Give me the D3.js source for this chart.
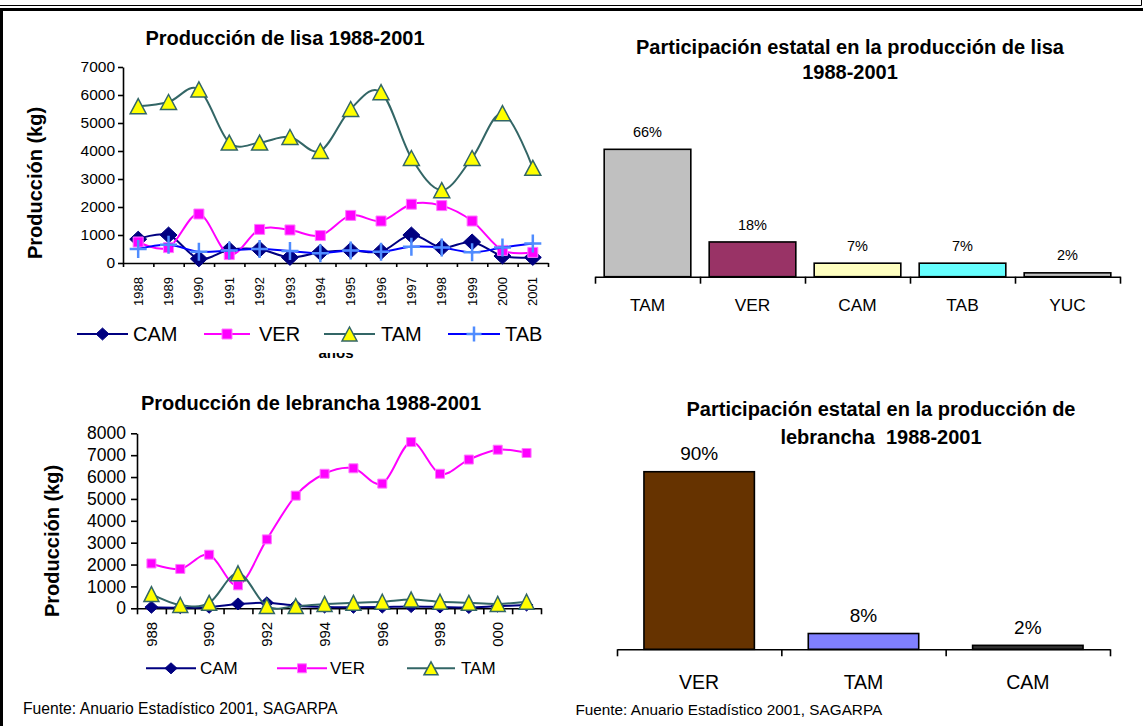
<!DOCTYPE html>
<html>
<head>
<meta charset="utf-8">
<script src="https://cdn.jsdelivr.net/npm/d3@7"></script>
<style>
  body { margin: 0; background: #fff; }
  svg { display: block; font-family: "Liberation Sans", Arial, Helvetica, sans-serif; }
</style>
</head>
<body>
<svg id="chart" width="1143" height="726"></svg>
<script>
// ---------- data ----------
const years = [1988, 1989, 1990, 1991, 1992, 1993, 1994, 1995, 1996, 1997, 1998, 1999, 2000, 2001];

// Producción de lisa (kg)
const lisaCAM = [850, 1000, 150, 470, 490, 200, 380, 450, 410, 1000, 550, 750, 250, 200];
const lisaVER = [750, 550, 1750, 300, 1200, 1180, 980, 1700, 1500, 2100, 2050, 1500, 450, 380];
const lisaTAM = [5600, 5750, 6200, 4300, 4300, 4500, 4000, 5500, 6100, 3750, 2600, 3750, 5350, 3400];
const lisaTAB = [500, 650, 400, 450, 500, 430, 350, 450, 400, 580, 550, 380, 550, 700];
const lisaTicks = [0, 1000, 2000, 3000, 4000, 5000, 6000, 7000];

// Producción de lebrancha (kg)
const lebCAM = [50, 30, 50, 200, 250, 120, 60, 50, 60, 80, 60, 40, 100, 150];
const lebVER = [2050, 1800, 2450, 1050, 3150, 5150, 6150, 6400, 5700, 7600, 6150, 6800, 7250, 7100];
const lebTAM = [650, 150, 250, 1600, 100, 100, 200, 250, 300, 400, 300, 250, 200, 300];
const lebTicks = [0, 1000, 2000, 3000, 4000, 5000, 6000, 7000, 8000];
const lebLabelYears = [1988, 1990, 1992, 1994, 1996, 1998, 2000];

// Participación estatal (%)
const lisaShareStates = ["TAM", "VER", "CAM", "TAB", "YUC"];
const lisaShareValues = [66, 18, 7, 7, 2];
const lebShareStates = ["VER", "TAM", "CAM"];
const lebShareValues = [90, 8, 2];

const sourceNote = "Fuente: Anuario Estadístico 2001, SAGARPA";

// ---------- styles ----------
const seriesStyle = {
  CAM: { line: "#000080", shape: "diamond", fill: "#000080", stroke: "#000080" },
  VER: { line: "#FF00FF", shape: "square", fill: "#FF00FF", stroke: "#FF77FF" },
  TAM: { line: "#336666", shape: "triangle", fill: "#FFFF00", stroke: "#336666" },
  TAB: { line: "#0000FF", shape: "cross", fill: "none", stroke: "#4F8CFF" }
};

function shapePath(shape, w, h) {
  switch (shape) {
    case "diamond": return `M0,${-h / 2}L${w / 2},0L0,${h / 2}L${-w / 2},0Z`;
    case "triangle": return `M0,${-h / 2}L${w / 2},${h / 2}L${-w / 2},${h / 2}Z`;
    case "square": return `M${-w / 2},${-h / 2}h${w}v${h}h${-w}Z`;
    case "cross": return `M${-w / 2},0H${w / 2}M0,${-h / 2}V${h / 2}`;
  }
}

function drawMarker(sel, name, size) {
  const st = seriesStyle[name];
  const s = size[st.shape];
  sel.attr("d", shapePath(st.shape, s[0], s[1]))
    .attr("fill", st.fill)
    .attr("stroke", st.stroke)
    .attr("stroke-width", st.shape === "cross" ? 2.5 : (st.shape === "triangle" ? 1.5 : 1))
    .attr("stroke-linejoin", "miter");
}

const svg = d3.select("#chart");

// ---------- page frame ----------
svg.append("path").attr("d", "M0,5.5H1141.5V0").attr("fill", "none").attr("stroke", "#000").attr("stroke-width", 1);
svg.append("line").attr("x1", 0).attr("x2", 1143).attr("y1", 9.5).attr("y2", 9.5).attr("stroke", "#000").attr("stroke-width", 3);
svg.append("line").attr("x1", 1.5).attr("x2", 1.5).attr("y1", 8).attr("y2", 726).attr("stroke", "#000").attr("stroke-width", 3);

const defs = svg.append("defs");

// ---------- line charts ----------
function lineChart(cfg) {
  const g = svg.append("g");
  const x = d3.scaleBand().domain(years).range([cfg.x0, cfg.x1]);
  const y = d3.scaleLinear().domain([0, cfg.max]).range([cfg.y0, cfg.yTop]);
  const cx = d => x(d) + x.bandwidth() / 2;

  g.append("text")
    .attr("x", cfg.titleX).attr("y", cfg.titleY).attr("dy", "0.35em")
    .attr("text-anchor", "middle")
    .style("font-weight", "bold").style("font-size", cfg.titleSize + "px")
    .text(cfg.title);

  g.append("text")
    .attr("transform", `translate(${cfg.yTitleX},${cfg.yTitleY}) rotate(-90)`)
    .attr("dy", "0.35em").attr("text-anchor", "middle")
    .style("font-weight", "bold").style("font-size", cfg.yTitleSize + "px")
    .text("Producción (kg)");

  // y axis
  const ya = g.append("g").attr("transform", `translate(${cfg.x0},0)`)
    .call(d3.axisLeft(y).tickValues(cfg.ticks).tickSize(cfg.yTick).tickSizeOuter(0)
      .tickPadding(cfg.yPad).tickFormat(d3.format("d")));
  ya.selectAll("text").style("font-size", cfg.tickSize + "px").attr("fill", "#000");

  // x axis: ticks on category boundaries
  const xb = d3.scaleLinear().domain([0, years.length]).range([cfg.x0, cfg.x1]);
  const xa = g.append("g").attr("transform", `translate(0,${cfg.y0})`)
    .call(d3.axisBottom(xb).tickValues(d3.range(years.length + 1)).tickSize(cfg.xTick)
      .tickSizeOuter(0).tickFormat(""));

  [ya, xa].forEach(a => a.selectAll("line, path").attr("stroke", "#000").attr("stroke-width", 1.6));

  // rotated year labels
  const clipId = cfg.id + "-clip";
  defs.append("clipPath").attr("id", clipId)
    .append("rect").attr("x", cfg.x0 - 20).attr("y", cfg.y0).attr("width", cfg.x1 - cfg.x0 + 40)
    .attr("height", cfg.labelClip - cfg.y0);
  const lg = g.append("g").attr("clip-path", `url(#${clipId})`)
    .append("g").attr("transform", `translate(0,${cfg.y0})`)
    .call(d3.axisBottom(x).tickValues(cfg.labelYears).tickSize(0));
  lg.select(".domain").remove();
  lg.selectAll("text")
    .attr("transform", "rotate(-90)")
    .attr("x", -cfg.labelOff).attr("y", 0).attr("dy", "0.35em")
    .attr("text-anchor", "end")
    .attr("fill", "#000")
    .style("font-size", cfg.labelSize + "px");

  // series
  const line = d3.line().x((d, i) => cx(years[i])).y(d => y(d)).curve(d3.curveCardinal.tension(0));
  cfg.series.forEach(name => {
    const vals = cfg.data[name];
    const st = seriesStyle[name];
    g.append("path").datum(vals).attr("d", line)
      .attr("fill", "none").attr("stroke", st.line).attr("stroke-width", 2);
    g.append("g").selectAll("path").data(vals).join("path")
      .attr("transform", (d, i) => `translate(${cx(years[i])},${y(d)})`)
      .call(drawMarker, name, cfg.markerSize);
  });

  // legend
  const leg = g.append("g");
  cfg.legend.forEach((it, i) => {
    const name = cfg.series[i];
    const st = seriesStyle[name];
    leg.append("line").attr("x1", it[0]).attr("x2", it[1]).attr("y1", cfg.legendY).attr("y2", cfg.legendY)
      .attr("stroke", st.line).attr("stroke-width", 2);
    leg.append("path").attr("transform", `translate(${(it[0] + it[1]) / 2},${cfg.legendY})`)
      .call(drawMarker, name, cfg.legendMarker);
    leg.append("text").attr("x", it[2]).attr("y", cfg.legendY).attr("dy", "0.36em")
      .style("font-size", cfg.legendSize + "px").text(name);
  });
  return g;
}

const lisa = lineChart({
  id: "lisa",
  title: "Producción de lisa 1988-2001", titleX: 285, titleY: 38, titleSize: 20,
  yTitleX: 35, yTitleY: 183, yTitleSize: 20,
  x0: 123, x1: 548, y0: 263, yTop: 67, max: 7000, ticks: lisaTicks,
  yTick: 5, yPad: 3, tickSize: 15.5, xTick: 4,
  labelYears: years, labelOff: 14, labelSize: 13, labelClip: 306,
  series: ["CAM", "VER", "TAM", "TAB"],
  data: { CAM: lisaCAM, VER: lisaVER, TAM: lisaTAM, TAB: lisaTAB },
  markerSize: { diamond: [17, 16], square: [10, 10], triangle: [16, 15], cross: [17, 18] },
  legendMarker: { diamond: [13, 12], square: [10, 10], triangle: [15, 14], cross: [15, 15] },
  legendY: 334, legendSize: 20,
  legend: [[77, 128, 133], [204, 250, 259], [324, 375, 381], [448, 500, 505]]
});

// axis caption partly hidden under the legend
defs.append("clipPath").attr("id", "anos-clip")
  .append("rect").attr("x", 300).attr("y", 353).attr("width", 80).attr("height", 10);
lisa.append("text").attr("x", 336).attr("y", 358).attr("text-anchor", "middle")
  .attr("clip-path", "url(#anos-clip)")
  .style("font-weight", "bold").style("font-size", "15px").text("años");

lineChart({
  id: "leb",
  title: "Producción de lebrancha 1988-2001", titleX: 311, titleY: 403, titleSize: 20,
  yTitleX: 52, yTitleY: 541, yTitleSize: 20,
  x0: 137, x1: 541, y0: 608.3, yTop: 433.3, max: 8000, ticks: lebTicks,
  yTick: 6, yPad: 5, tickSize: 17.5, xTick: 6,
  labelYears: lebLabelYears, labelOff: 13.5, labelSize: 15, labelClip: 647,
  series: ["CAM", "VER", "TAM"],
  data: { CAM: lebCAM, VER: lebVER, TAM: lebTAM },
  markerSize: { diamond: [13, 12], square: [9, 9], triangle: [15, 15], cross: [15, 15] },
  legendMarker: { diamond: [12, 11], square: [9, 9], triangle: [14, 13], cross: [15, 15] },
  legendY: 668.3, legendSize: 17,
  legend: [[146, 196, 200], [277, 327, 330], [407, 455, 461]]
});

// ---------- bar charts ----------
function barChart(cfg) {
  const g = svg.append("g");
  const x = d3.scaleBand().domain(cfg.states).range([cfg.x0, cfg.x1])
    .paddingInner(cfg.pad).paddingOuter(cfg.pad / 2);
  const y = d3.scaleLinear().domain([0, 100]).range([cfg.y0, cfg.y0 - cfg.pxPer100]);

  cfg.title.forEach((t, i) => {
    g.append("text").attr("x", cfg.titleX).attr("y", cfg.titleY[i]).attr("dy", "0.35em")
      .attr("text-anchor", "middle").attr("xml:space", "preserve")
      .style("font-weight", "bold").style("font-size", cfg.titleSize + "px").text(t);
  });

  g.selectAll("rect.bar").data(cfg.values).join("rect").attr("class", "bar")
    .attr("x", (d, i) => x(cfg.states[i]))
    .attr("width", x.bandwidth())
    .attr("y", d => y(d))
    .attr("height", d => cfg.y0 - y(d))
    .attr("fill", (d, i) => cfg.colors[i])
    .attr("stroke", "#000").attr("stroke-width", 1.6);

  g.selectAll("text.val").data(cfg.values).join("text").attr("class", "val")
    .attr("x", (d, i) => x(cfg.states[i]) + x.bandwidth() / 2)
    .attr("y", d => y(d) - cfg.valOff).attr("dy", "0.35em")
    .attr("text-anchor", "middle").style("font-size", cfg.valSize + "px")
    .text(d => d + "%");

  const xb = d3.scaleLinear().domain([0, cfg.states.length]).range([cfg.x0, cfg.x1]);
  const xa = g.append("g").attr("transform", `translate(0,${cfg.y0})`)
    .call(d3.axisBottom(xb).tickValues(d3.range(cfg.states.length + 1)).tickSize(cfg.tick)
      .tickSizeOuter(0).tickFormat(""));
  xa.selectAll("line, path").attr("stroke", "#000").attr("stroke-width", 1.6);

  g.selectAll("text.cat").data(cfg.states).join("text").attr("class", "cat")
    .attr("x", d => x(d) + x.bandwidth() / 2).attr("y", cfg.catY).attr("dy", "0.35em")
    .attr("text-anchor", "middle").style("font-size", cfg.catSize + "px").text(d => d);
}

barChart({
  states: lisaShareStates, values: lisaShareValues,
  colors: ["#C0C0C0", "#993366", "#FFFFC0", "#66FFFF", "#C0C0C0"],
  title: ["Participación estatal en la producción de lisa", "1988-2001"],
  titleX: 850, titleY: [47, 72], titleSize: 20,
  x0: 595, x1: 1120, pad: 0.175, y0: 276.7, pxPer100: 193,
  valOff: 17.5, valSize: 14.5, tick: 7, catY: 305, catSize: 17.3
});

barChart({
  states: lebShareStates, values: lebShareValues,
  colors: ["#663300", "#8080FF", "#333333"],
  title: ["Participación estatal en la producción de", "lebrancha  1988-2001"],
  titleX: 881, titleY: [409.3, 437.3], titleSize: 20,
  x0: 617, x1: 1110, pad: 0.328, y0: 649.3, pxPer100: 197.3,
  valOff: 18.5, valSize: 19, tick: 7, catY: 681.7, catSize: 19.5
});

// ---------- source notes ----------
svg.append("text").attr("x", 23).attr("y", 708.3).attr("dy", "0.35em")
  .style("font-size", "15.7px").text(sourceNote);
svg.append("text").attr("x", 575.5).attr("y", 709.3).attr("dy", "0.35em")
  .style("font-size", "15.3px").text(sourceNote);
</script>
</body>
</html>
